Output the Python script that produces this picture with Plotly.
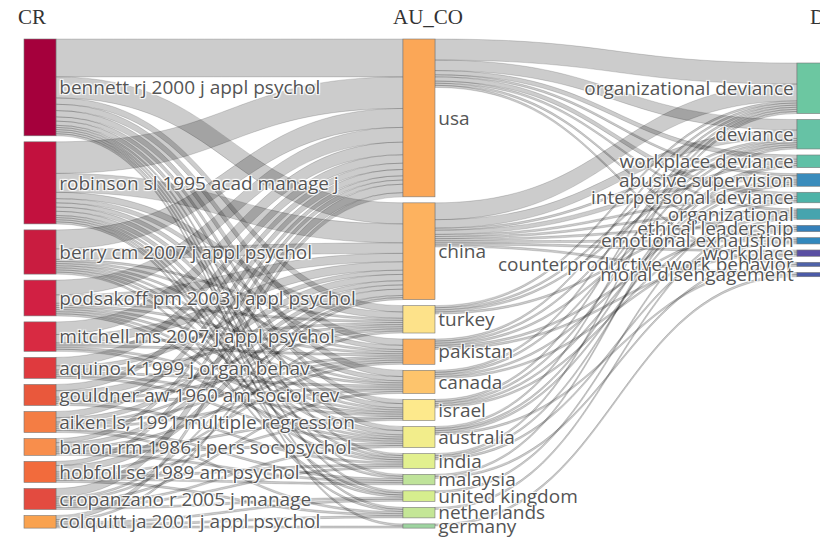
import plotly.graph_objects as go

# ---- data ----
cr_labels = ["bennett rj 2000 j appl psychol", "robinson sl 1995 acad manage j",
             "berry cm 2007 j appl psychol", "podsakoff pm 2003 j appl psychol",
             "mitchell ms 2007 j appl psychol", "aquino k 1999 j organ behav",
             "gouldner aw 1960 am sociol rev", "aiken ls, 1991 multiple regression",
             "baron rm 1986 j pers soc psychol", "hobfoll se 1989 am psychol",
             "cropanzano r 2005 j manage", "colquitt ja 2001 j appl psychol"]
country_labels = ["usa", "china", "turkey", "pakistan", "canada", "israel", "australia",
                  "india", "malaysia", "united kingdom", "netherlands", "germany"]
de_labels = ["organizational deviance", "deviance", "workplace deviance", "abusive supervision",
             "interpersonal deviance", "organizational", "ethical leadership",
             "emotional exhaustion", "workplace", "counterproductive work behavior",
             "moral disengagement"]

# CR -> AU_CO (rows: cr_labels, cols: country_labels)
cr_to_country = [
    [18, 10, 3, 3, 3, 2, 2, 1, 1, 1, 1, 1],
    [15, 9, 3, 2, 2, 2, 2, 1, 1, 1, 1, 0],
    [9, 5, 1, 1, 1, 1, 1, 1, 0, 1, 0, 0],
    [7, 4, 1, 1, 1, 1, 1, 1, 0, 0, 0, 0],
    [6, 4, 1, 1, 0, 1, 1, 0, 0, 0, 0, 0],
    [4, 2, 1, 0, 1, 1, 1, 0, 0, 0, 0, 0],
    [3, 3, 1, 1, 1, 0, 0, 1, 0, 0, 0, 0],
    [3, 2, 1, 1, 1, 0, 0, 0, 1, 0, 1, 0],
    [2, 2, 0, 1, 0, 1, 1, 0, 1, 0, 0, 0],
    [2, 3, 0, 1, 0, 1, 0, 1, 1, 0, 1, 0],
    [4, 1, 1, 0, 1, 0, 1, 1, 0, 1, 0, 0],
    [2, 1, 0, 0, 0, 0, 0, 0, 0, 1, 1, 1],
]
# AU_CO -> DE (rows: country_labels, cols: de_labels)
country_to_de = [
    [10, 5, 2, 1, 2, 1, 0, 1, 0, 1, 0],
    [8, 4, 1, 2, 1, 1, 1, 1, 1, 0, 1],
    [1, 1, 1, 0, 0, 1, 0, 0, 0, 0, 0],
    [1, 1, 0, 1, 0, 0, 1, 0, 1, 0, 0],
    [1, 1, 0, 0, 1, 0, 0, 1, 0, 0, 0],
    [1, 1, 0, 1, 0, 1, 0, 0, 0, 0, 0],
    [1, 0, 1, 1, 0, 0, 0, 0, 0, 1, 0],
    [1, 0, 1, 0, 0, 0, 1, 0, 0, 0, 0],
    [0, 1, 0, 0, 0, 0, 0, 0, 1, 0, 0],
    [0, 0, 0, 0, 1, 0, 0, 0, 0, 0, 0],
    [0, 0, 0, 0, 0, 1, 0, 0, 0, 0, 0],
    [0, 0, 0, 0, 0, 0, 0, 0, 0, 0, 1],
]

cr_colors = ["#a5003c", "#c2113e", "#c91c40", "#d12043", "#d82a42", "#df3a3e",
             "#e9583c", "#f47d44", "#f88e4c", "#f26b3c", "#e34b40", "#f9a24f"]
country_colors = ["#fba757", "#fdb25f", "#fde28a", "#fcaf5e", "#fdc46c", "#fde98c",
                  "#f2ed8b", "#e2f08f", "#bfe39a", "#d6ee8e", "#c4e696", "#9ed4a0"]
de_colors = ["#6cc7a1", "#66c2a5", "#5fc0a6", "#3a8cbc", "#4db3a8", "#46a4ae",
             "#3580b9", "#3288bd", "#5a4fa2", "#4f62a8", "#4b5aa7"]

# ---- layout helpers ----
W, HGT = 828, 542
M = dict(l=16, r=20, t=31, b=22)
plot_h = HGT - M["t"] - M["b"]
pad = 6

n_cr, n_co, n_de = len(cr_labels), len(country_labels), len(de_labels)
cr_vals = [sum(r) for r in cr_to_country]
co_in = [sum(cr_to_country[i][j] for i in range(n_cr)) for j in range(n_co)]
co_out = [sum(r) for r in country_to_de]
co_vals = [max(a, b) for a, b in zip(co_in, co_out)]
de_vals = [sum(country_to_de[i][j] for i in range(n_co)) for j in range(n_de)]

cols = [cr_vals, co_vals, de_vals]
ky = min((plot_h - (len(c) - 1) * pad) / sum(c) for c in cols)


def centers(vals, top):
    out, y = [], top
    for v in vals:
        h = v * ky
        out.append((y + h / 2) / plot_h)
        y += h + pad + 0.01
    return out


ys = centers(cr_vals, 0) + centers(co_vals, 0) + centers(de_vals, 24)
ys = [max(v, 1e-4) for v in ys]
xs = [0.0202] * n_cr + [0.4987] * n_co + [0.9962] * n_de

src, tgt, val = [], [], []
for i in range(n_cr):
    for j in range(n_co):
        if cr_to_country[i][j]:
            src.append(i); tgt.append(n_cr + j); val.append(cr_to_country[i][j])
for i in range(n_co):
    for j in range(n_de):
        if country_to_de[i][j]:
            src.append(n_cr + i); tgt.append(n_cr + n_co + j); val.append(country_to_de[i][j])

fig = go.Figure(go.Sankey(
    arrangement="snap",
    node=dict(label=cr_labels + country_labels + de_labels,
              color=cr_colors + country_colors + de_colors,
              x=xs, y=ys, pad=pad, thickness=32,
              line=dict(color="#777", width=0.6),
              hoverinfo="none"),
    link=dict(source=src, target=tgt, value=val,
              color="rgba(0,0,0,0.2)",
              line=dict(color="rgba(0,0,0,0.3)", width=0.5),
              hoverinfo="none"),
    textfont=dict(family="Open Sans", size=19, color="#555"),
))

for xp, txt in zip([0, 0.5, 1], ["CR", "AU_CO", "DE"]):
    fig.add_annotation(x=xp, y=1, xref="paper", yref="paper", text=txt,
                       showarrow=False, xanchor="center", yanchor="middle",
                       xshift=8, yshift=22,
                       font=dict(family="Liberation Serif", size=21, color="#333"))

fig.update_layout(width=W, height=HGT, margin=M, paper_bgcolor="white",
                  plot_bgcolor="white")
fig.write_html("out.html")
